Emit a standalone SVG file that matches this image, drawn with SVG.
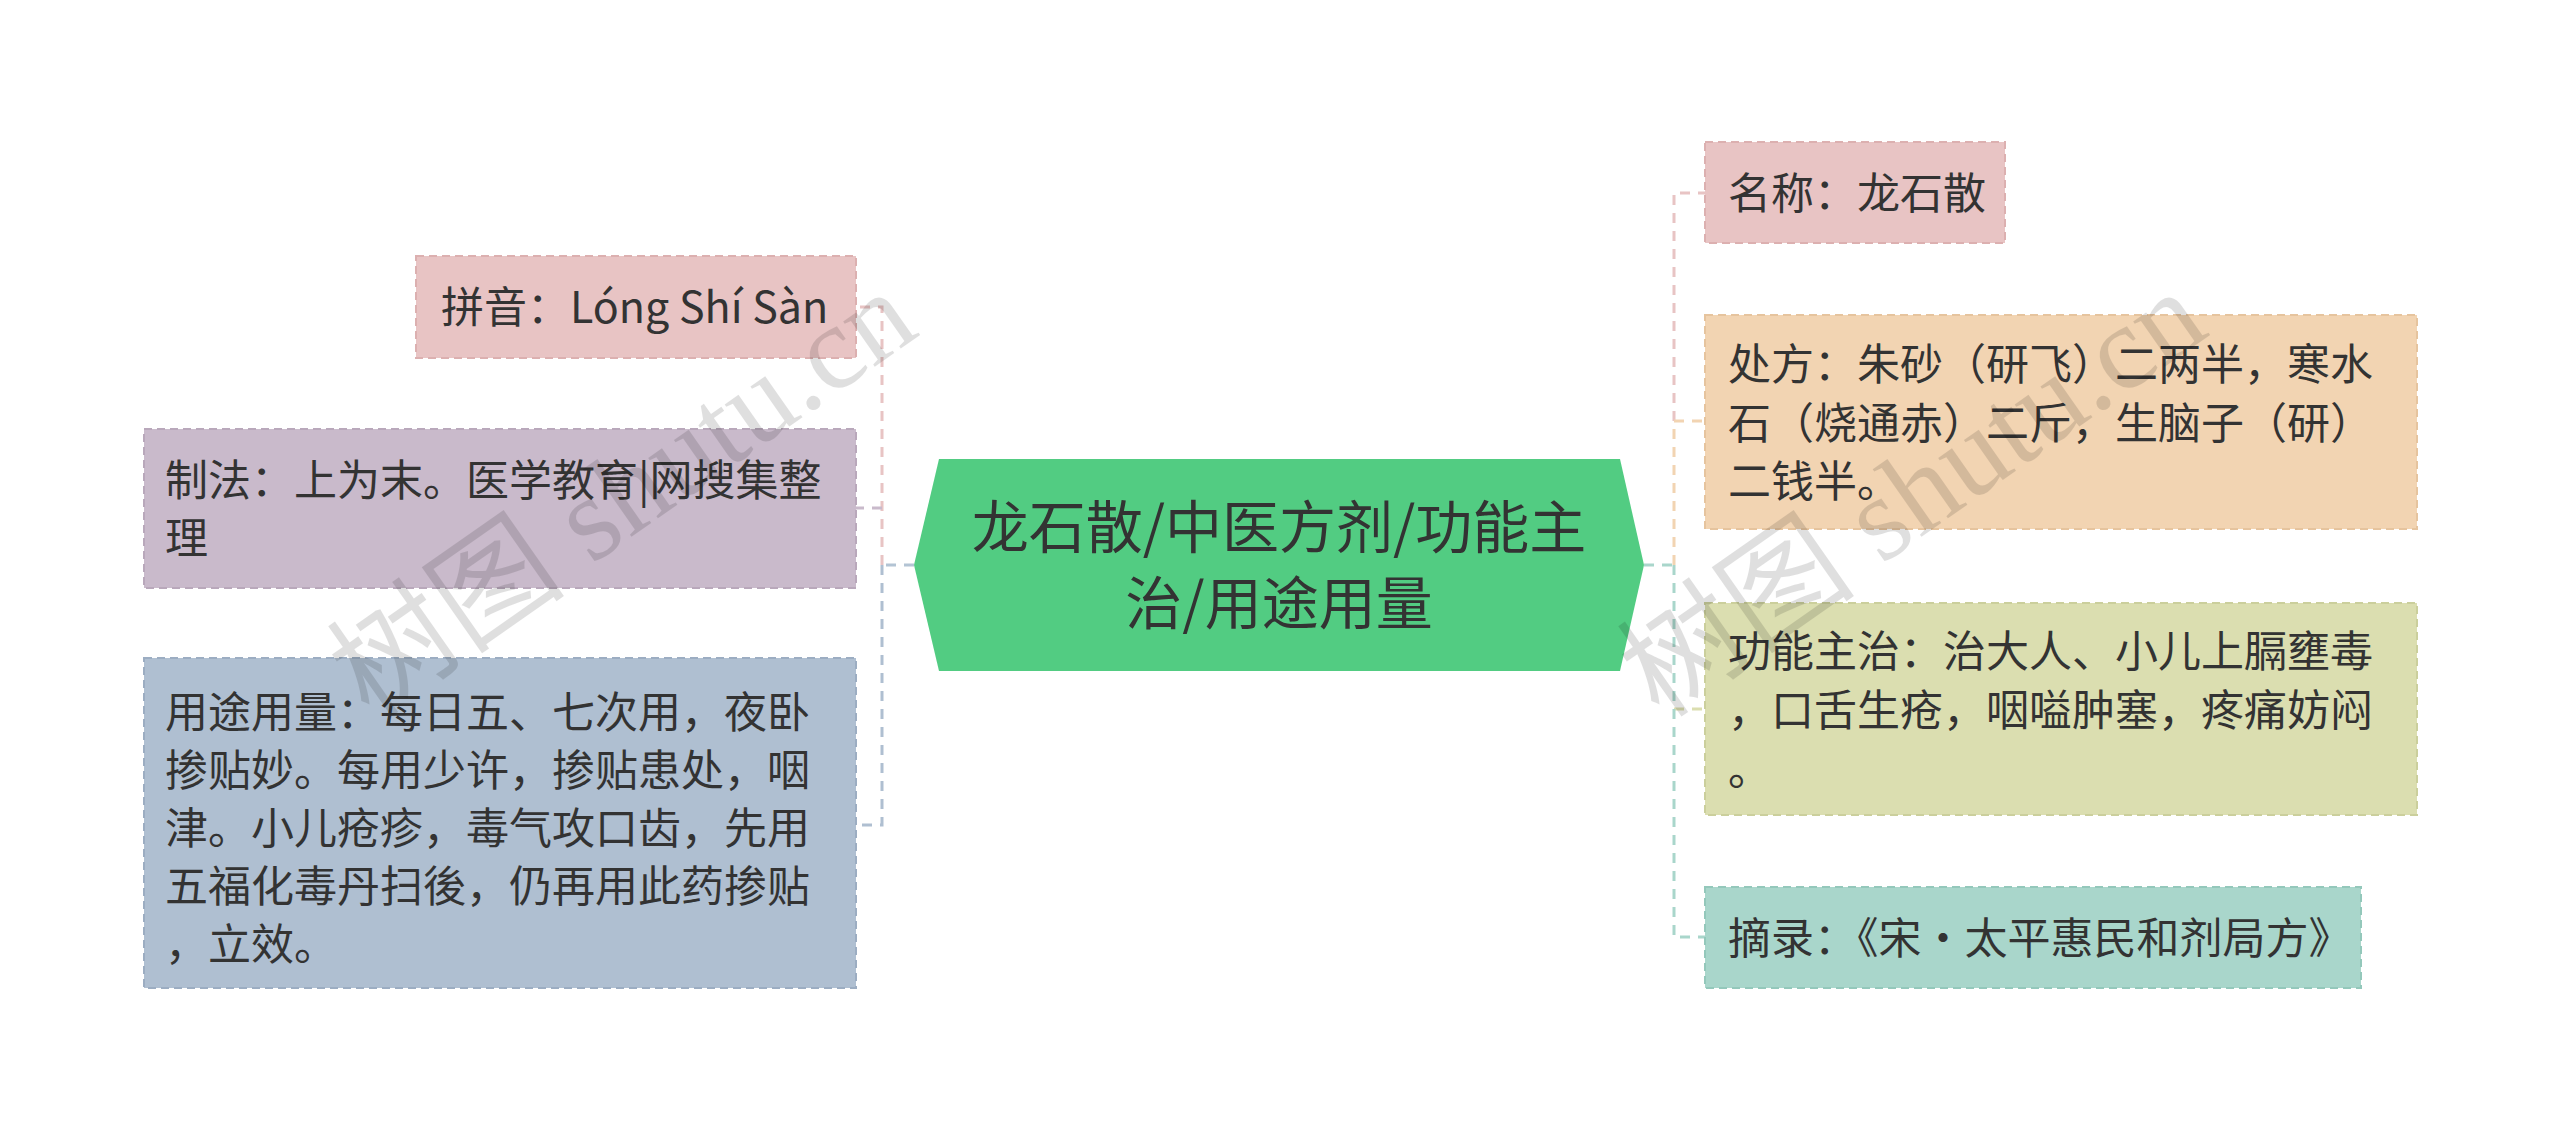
<svg xmlns="http://www.w3.org/2000/svg" width="2560" height="1132" viewBox="0 0 2560 1132">
<style>
text{font-family:"Noto Sans CJK SC","Liberation Sans",sans-serif;fill:#333;}
.t{font-size:43px;}
.c{font-size:57px;}
.n{stroke-width:2;stroke-dasharray:8 5;}
.l{fill:none;stroke-width:3;stroke-dasharray:10 8;}
.wm{font-family:"Liberation Serif","Noto Sans CJK SC",serif;font-size:120px;fill:#000;opacity:0.12;}
</style>
<rect width="2560" height="1132" fill="#fff"/>
<g id="connectors">
<path class="l" stroke="#b3c4d4" d="M914 565H882"/>
<path class="l" stroke="#e8c4c4" d="M882 565V307H856"/>
<path class="l" stroke="#c9bacb" d="M882 508H856"/>
<path class="l" stroke="#afbfd1" d="M882 565V825H856"/>
<path class="l" stroke="#a9d6cb" d="M1644 565H1674"/>
<path class="l" stroke="#e8c4c4" d="M1674 421V193H1705"/>
<path class="l" stroke="#f2d4b2" d="M1674 565V421H1705"/>
<path class="l" stroke="#dbdeb0" d="M1674 709H1705"/>
<path class="l" stroke="#a9d6cb" d="M1674 565V937H1705"/>
</g>
<g id="center">
<polygon points="914,565 939,459 1620,459 1644,565 1620,671 939,671" fill="#52cc82"/>
<text class="c" x="1279" y="548" text-anchor="middle">龙石散/中医方剂/功能主</text>
<text class="c" x="1279" y="624" text-anchor="middle">治/用途用量</text>
</g>
<g id="pinyin">
<rect class="n" x="416" y="256" width="440" height="102" fill="#e8c4c4" stroke="#dcb0b0"/>
<text class="t" x="441" y="323">拼音：Lóng Shí Sàn</text>
</g>
<g id="zhifa">
<rect class="n" x="144" y="429" width="712" height="159" fill="#c9bacb" stroke="#b9a8bb"/>
<text class="t" x="165" y="496">制法：上为末。医学教育|网搜集整</text>
<text class="t" x="165" y="554">理</text>
</g>
<g id="yongtu">
<rect class="n" x="144" y="658" width="712" height="330" fill="#afbfd1" stroke="#9cadc2"/>
<text class="t" x="165" y="728">用途用量：每日五、七次用，夜卧</text>
<text class="t" x="165" y="786">掺贴妙。每用少许，掺贴患处，咽</text>
<text class="t" x="165" y="844">津。小儿疮疹，毒气攻口齿，先用</text>
<text class="t" x="165" y="902">五福化毒丹扫後，仍再用此药掺贴</text>
<text class="t" x="165" y="960">，立效。</text>
</g>
<g id="mingcheng">
<rect class="n" x="1705" y="142" width="300" height="101" fill="#e8c4c4" stroke="#dcb0b0"/>
<text class="t" x="1728" y="209">名称：龙石散</text>
</g>
<g id="chufang">
<rect class="n" x="1705" y="315" width="712" height="214" fill="#f2d4b2" stroke="#e6c49e"/>
<text class="t" x="1728" y="380">处方：朱砂（研飞）二两半，寒水</text>
<text class="t" x="1728" y="439">石（烧通赤）二斤，生脑子（研）</text>
<text class="t" x="1728" y="497">二钱半。</text>
</g>
<g id="gongneng">
<rect class="n" x="1705" y="603" width="712" height="212" fill="#dbdeb0" stroke="#cbcf9c"/>
<text class="t" x="1728" y="667">功能主治：治大人、小儿上膈壅毒</text>
<text class="t" x="1728" y="726">，口舌生疮，咽嗌肿塞，疼痛妨闷</text>
<text class="t" x="1728" y="785">。</text>
</g>
<g id="zhailu">
<rect class="n" x="1705" y="887" width="656" height="101" fill="#a9d6cb" stroke="#94c8bb"/>
<text class="t" x="1728" y="954">摘录：《宋·太平惠民和剂局方》</text>
</g>
<g id="watermarks">
<text class="wm" transform="translate(370,720) rotate(-35)">树图 shutu.cn</text>
<text class="wm" transform="translate(1660,720) rotate(-35)">树图 shutu.cn</text>
</g>
</svg>
